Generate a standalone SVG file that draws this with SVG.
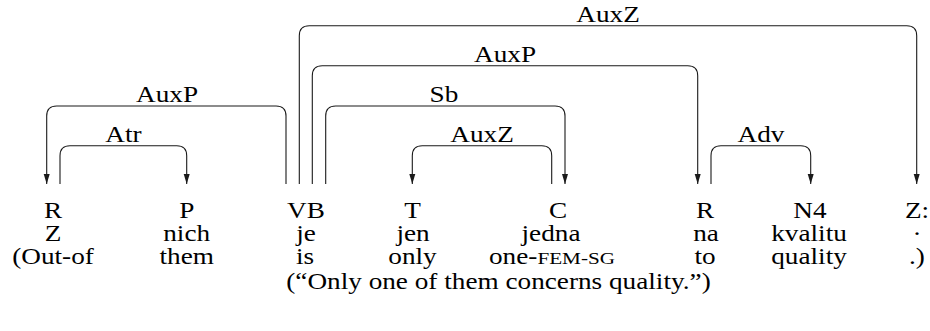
<svg xmlns="http://www.w3.org/2000/svg" width="930" height="331" viewBox="0 0 930 331">
<style>
  .t { font-family: 'Liberation Serif', 'Times New Roman', serif; font-size: 22.5px; fill: #000; text-anchor: middle; }
  .arc { fill: none; stroke: #1a1a1a; stroke-width: 1.1; }
  .sc { font-size: 17.5px; }
</style>
<defs>
  <marker id="arr" markerWidth="10" markerHeight="8" refX="10" refY="4" orient="auto" markerUnits="userSpaceOnUse">
    <path d="M0,1 L10,4 L0,7 Z" fill="#1a1a1a"/>
  </marker>
</defs>
<rect width="930" height="331" fill="#fff"/>
<g id="connectors">
  <g id="e-auxp1">
    <path class="arc" marker-end="url(#arr)" d="M286,184 V116 Q286,106 276,106 H56.7 Q46.7,106 46.7,116 V184"/>
    <text class="t" transform="matrix(1.21 0 0 1 167 101.5)">AuxP</text>
  </g>
  <g id="e-atr">
    <path class="arc" marker-end="url(#arr)" d="M60,184 V155.7 Q60,145.7 70,145.7 H176.7 Q186.7,145.7 186.7,155.7 V184"/>
    <text class="t" transform="matrix(1.21 0 0 1 123.5 141.5)">Atr</text>
  </g>
  <g id="e-auxz1">
    <path class="arc" marker-end="url(#arr)" d="M299.3,184 V35.7 Q299.3,25.7 309.3,25.7 H906.7 Q916.7,25.7 916.7,35.7 V184"/>
    <text class="t" transform="matrix(1.21 0 0 1 608 21.5)">AuxZ</text>
  </g>
  <g id="e-auxp2">
    <path class="arc" marker-end="url(#arr)" d="M312.3,184 V75.7 Q312.3,65.7 322.3,65.7 H687.7 Q697.7,65.7 697.7,75.7 V184"/>
    <text class="t" transform="matrix(1.21 0 0 1 505 61.5)">AuxP</text>
  </g>
  <g id="e-sb">
    <path class="arc" marker-end="url(#arr)" d="M325.7,184 V116 Q325.7,106 335.7,106 H555 Q565,106 565,116 V184"/>
    <text class="t" transform="matrix(1.21 0 0 1 444 101.5)">Sb</text>
  </g>
  <g id="e-auxz2">
    <path class="arc" marker-end="url(#arr)" d="M551.7,184 V155.7 Q551.7,145.7 541.7,145.7 H422.3 Q412.3,145.7 412.3,155.7 V184"/>
    <text class="t" transform="matrix(1.21 0 0 1 482 141.5)">AuxZ</text>
  </g>
  <g id="e-adv">
    <path class="arc" marker-end="url(#arr)" d="M711,184 V155.7 Q711,145.7 721,145.7 H800.7 Q810.7,145.7 810.7,155.7 V184"/>
    <text class="t" transform="matrix(1.21 0 0 1 761 141.5)">Adv</text>
  </g>
</g>
<g id="n1">
  <text class="t" transform="matrix(1.21 0 0 1 53 218)">R</text>
  <text class="t" transform="matrix(1.21 0 0 1 53 241)">Z</text>
  <text class="t" transform="matrix(1.21 0 0 1 53 264)">(Out-of</text>
</g>
<g id="n2">
  <text class="t" transform="matrix(1.21 0 0 1 186.7 218)">P</text>
  <text class="t" transform="matrix(1.21 0 0 1 186.7 241)">nich</text>
  <text class="t" transform="matrix(1.21 0 0 1 186.7 264)">them</text>
</g>
<g id="n3">
  <text class="t" transform="matrix(1.21 0 0 1 306 218)">VB</text>
  <text class="t" transform="matrix(1.21 0 0 1 306 241)">je</text>
  <text class="t" transform="matrix(1.21 0 0 1 305 264)">is</text>
</g>
<g id="n4">
  <text class="t" transform="matrix(1.21 0 0 1 412.5 218)">T</text>
  <text class="t" transform="matrix(1.21 0 0 1 413 241)">jen</text>
  <text class="t" transform="matrix(1.21 0 0 1 412.5 264)">only</text>
</g>
<g id="n5">
  <text class="t" transform="matrix(1.21 0 0 1 558 218)">C</text>
  <text class="t" transform="matrix(1.21 0 0 1 551 241)">jedna</text>
  <text class="t" transform="matrix(1.21 0 0 1 552 264)">one-<tspan class="sc">FEM-SG</tspan></text>
</g>
<g id="n6">
  <text class="t" transform="matrix(1.21 0 0 1 705 218)">R</text>
  <text class="t" transform="matrix(1.21 0 0 1 706 241)">na</text>
  <text class="t" transform="matrix(1.21 0 0 1 705 264)">to</text>
</g>
<g id="n7">
  <text class="t" transform="matrix(1.21 0 0 1 810 218)">N4</text>
  <text class="t" transform="matrix(1.21 0 0 1 809 241)">kvalitu</text>
  <text class="t" transform="matrix(1.21 0 0 1 809 264)">quality</text>
</g>
<g id="n8">
  <text class="t" transform="matrix(1.21 0 0 1 917 218)">Z:</text>
  <text class="t" transform="matrix(1.21 0 0 1 917 241)">·</text>
  <text class="t" transform="matrix(1.21 0 0 1 917 264)">.)</text>
</g>
<g id="translation">
  <text class="t" transform="matrix(1.21 0 0 1 498.5 289)">(“Only one of them concerns quality.”)</text>
</g>
</svg>
